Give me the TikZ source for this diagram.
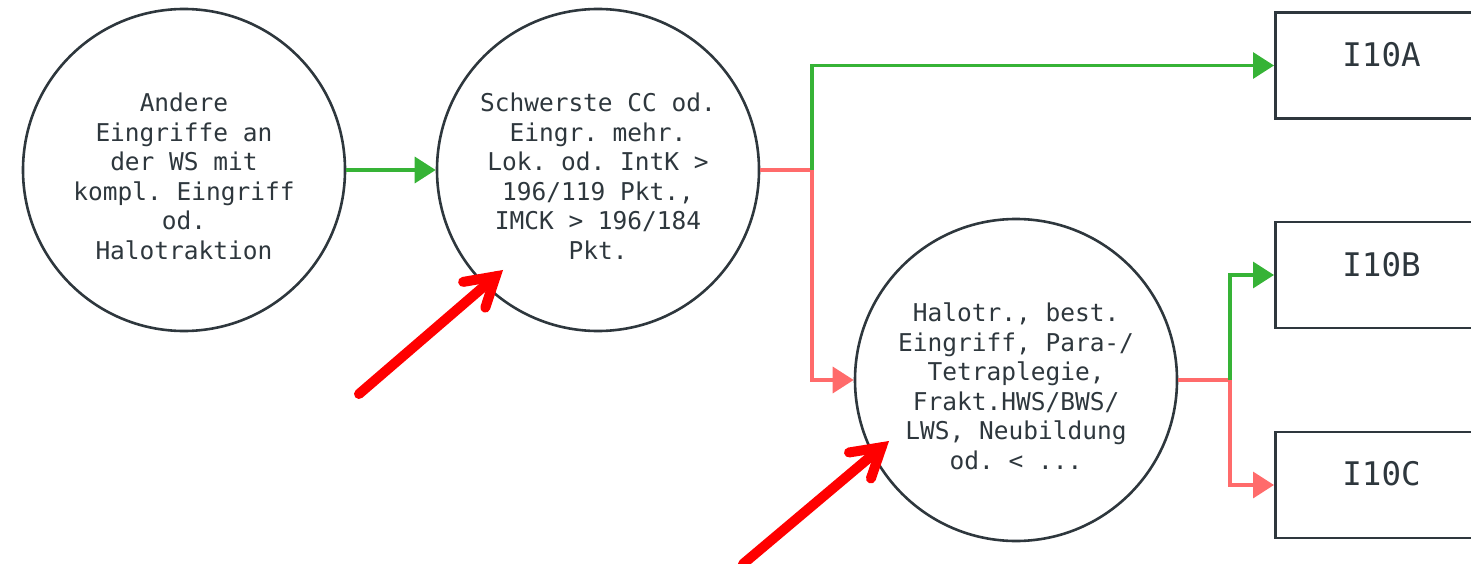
\documentclass[tikz,border=0pt]{standalone}
\usepackage{fontspec}
\setmonofont{DejaVu Sans Mono}
\usetikzlibrary{arrows.meta,calc}
\definecolor{inkc}{HTML}{2E373D}
\definecolor{okgreen}{HTML}{36B336}
\definecolor{nored}{HTML}{FF6B6B}
\definecolor{hotred}{HTML}{FF0000}
\newcommand{\lowerstrut}{\rule{0pt}{31pt}}
\begin{document}
\begin{tikzpicture}[x=1pt,y=-1pt,
  circ/.style={circle,draw=inkc,line width=2.6pt,minimum size=322pt,inner sep=0pt,
    text=inkc,align=center,font=\ttfamily\fontsize{24.5}{29.5}\selectfont},
  outbox/.style={rectangle,draw=inkc,line width=2.6pt,minimum width=216pt,minimum height=106pt,inner sep=0pt},
  boxtext/.style={text=inkc,font=\ttfamily\fontsize{32.5}{38}\selectfont},
  yes/.style={draw=okgreen,line width=3.4pt,-{Triangle[length=21pt,width=26pt]}},
  no/.style={draw=nored,line width=3.4pt,-{Triangle[length=21pt,width=26pt]}},
  nobar/.style={draw=nored,line width=3.4pt},
  pointer/.style={draw=hotred,line width=10pt,line cap=round,line join=miter}
]
\useasboundingbox (0,0) rectangle (1471,564);
\begin{scope}
\clip (0,0) rectangle (1471,564);
\node[circ] (c1) at (184,170) {\lowerstrut Andere\\Eingriffe an\\der WS mit\\kompl. Eingriff\\od.\\Halotraktion};
\node[circ] (c2) at (598,170) {\lowerstrut Schwerste CC od.\\Eingr. mehr.\\Lok. od. IntK >\\196/119 Pkt.,\\IMCK > 196/184\\Pkt.};
\node[circ] (c3) at (1016,380) {\lowerstrut Halotr., best.\\Eingriff, Para-/\\Tetraplegie,\\Frakt.HWS/BWS/\\LWS, Neubildung\\od. < ...};
\node[outbox,anchor=west] (bA) at (1274,65.5) {};
\node[outbox,anchor=west] (bB) at (1274,275) {};
\node[outbox,anchor=west] (bC) at (1274,485) {};
\node[boxtext] (tA) at (1381.5,55) {I10A};
\node[boxtext] (tB) at (1381.5,265) {I10B};
\node[boxtext] (tC) at (1381.5,474) {I10C};

\coordinate (s2) at (812,170);
\coordinate (s3) at (1230,380);

\draw[yes] (c1.east) -- (c2.west);
\draw[nobar] (c2.east) -- (s2);
\draw[yes] (s2) |- (bA.west);
\draw[no] (s2) |- (c3.west);
\draw[nobar] (c3.east) -- (s3);
\draw[yes] (s3) |- (bB.west);
\draw[no] (s3) |- (bC.west);

% red pointer arrows
\coordinate (p1s) at (359,394);
\coordinate (p1e) at (503,270);
\coordinate (p2s) at (743,564);
\coordinate (p2e) at (889,441);
\coordinate (v1) at ($(p1e)!9.7pt!(p1s)$);
\coordinate (v2) at ($(p2e)!9.7pt!(p2s)$);
\coordinate (b1a) at ($(v1)!33pt!31:(p1s)$);
\coordinate (b1b) at ($(v1)!33pt!-31:(p1s)$);
\coordinate (b2a) at ($(v2)!33pt!31:(p2s)$);
\coordinate (b2b) at ($(v2)!33pt!-31:(p2s)$);
\draw[pointer] (p1s) -- (v1);
\draw[pointer] (b1a) -- (v1) -- (b1b);
\draw[pointer] (p2s) -- (v2);
\draw[pointer] (b2a) -- (v2) -- (b2b);
\end{scope}
\end{tikzpicture}
\end{document}
